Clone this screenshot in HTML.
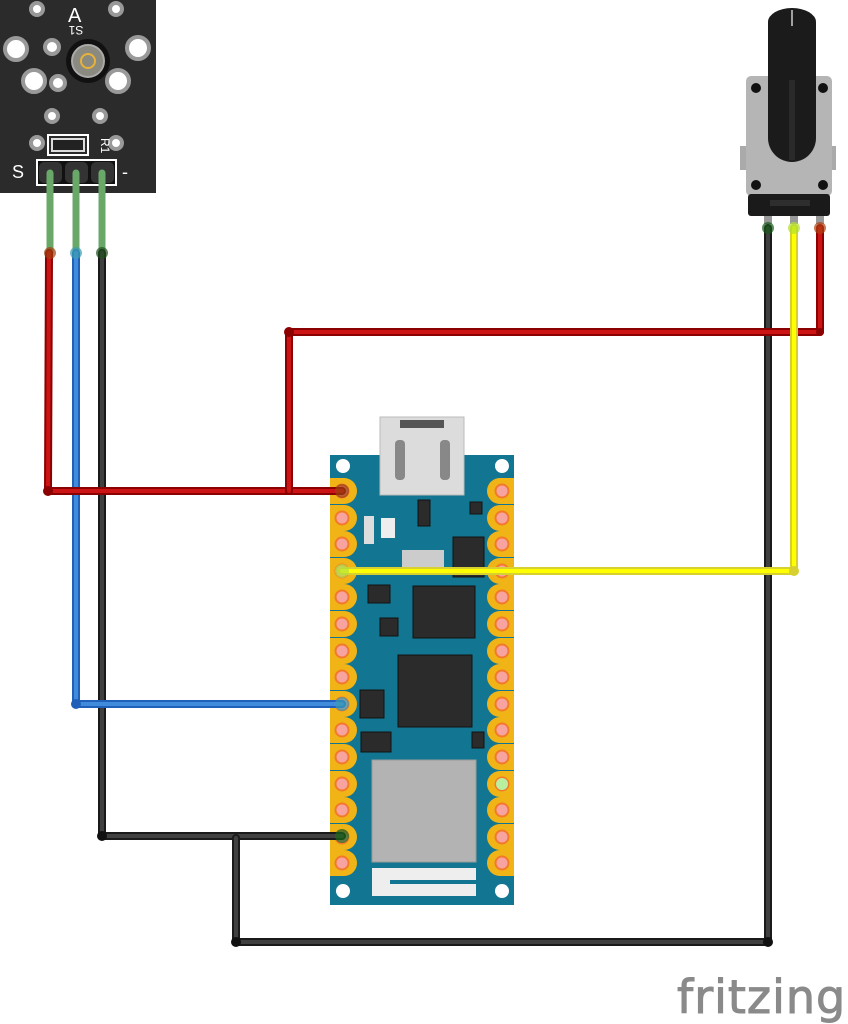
<!DOCTYPE html>
<html><head><meta charset="utf-8"><style>
html,body{margin:0;padding:0;background:#fff;width:848px;height:1024px;overflow:hidden}
svg{display:block}
</style></head><body>
<svg width="848" height="1024" viewBox="0 0 848 1024" xmlns="http://www.w3.org/2000/svg">
<defs>
<g id="pinL"><path d="M330,-13 h14 a13,13 0 0 1 0,26 h-14 z" fill="#f1b417"/><circle cx="342" cy="0" r="6.5" fill="#f7a3a0" stroke="#f2792a" stroke-width="2"/></g>
<g id="pinR"><path d="M514,-13 h-14 a13,13 0 0 0 0,26 h14 z" fill="#f1b417"/><circle cx="502" cy="0" r="6.5" fill="#f7a3a0" stroke="#f2792a" stroke-width="2"/></g>
</defs>

<!-- Sensor module -->
<rect x="0" y="0" width="156" height="193" fill="#2b2b2b"/>
<g fill="#fff" stroke="#999" stroke-width="4">
<circle cx="37" cy="9" r="6"/><circle cx="116" cy="9" r="6"/>
<circle cx="52" cy="47" r="7"/><circle cx="16" cy="49" r="11"/><circle cx="138" cy="48" r="11"/>
<circle cx="34" cy="81" r="11"/><circle cx="58" cy="83" r="7"/><circle cx="118" cy="81" r="11"/>
<circle cx="52" cy="116" r="6"/><circle cx="100" cy="116" r="6"/>
<circle cx="37" cy="143" r="6"/><circle cx="116" cy="143" r="6"/>
</g>
<circle cx="88" cy="61" r="22" fill="#111"/>
<circle cx="88" cy="61" r="16" fill="#8a8a80" stroke="#aaa" stroke-width="2"/>
<circle cx="88" cy="61" r="7" fill="none" stroke="#e8b23a" stroke-width="2"/>
<text x="68" y="22" font-family="Liberation Sans, sans-serif" font-size="20" fill="#fff">A</text>
<text x="76" y="34" text-anchor="middle" font-family="Liberation Sans, sans-serif" font-size="12" fill="#fff" transform="rotate(180 76 30)">S1</text>
<rect x="48" y="135" width="40" height="20" fill="none" stroke="#fff" stroke-width="2"/>
<rect x="52" y="139" width="32" height="12" fill="#222" stroke="#ddd" stroke-width="2"/>
<text x="92" y="141" font-family="Liberation Sans, sans-serif" font-size="12" fill="#fff" transform="rotate(90 98 144)">R1</text>
<text x="12" y="178" font-family="Liberation Sans, sans-serif" font-size="18" fill="#fff">S</text>
<text x="122" y="178" font-family="Liberation Sans, sans-serif" font-size="18" fill="#fff">-</text>
<rect x="37" y="160" width="79" height="25" fill="#111" stroke="#fff" stroke-width="2"/>
<g fill="#333"><rect x="39" y="162" width="23" height="21" rx="5"/><rect x="65" y="162" width="23" height="21" rx="5"/><rect x="91" y="162" width="23" height="21" rx="5"/></g>
<g stroke="#6aa86a" stroke-width="7" fill="none" stroke-linecap="round">
<line x1="50" y1="173" x2="50" y2="252"/><line x1="76" y1="173" x2="76" y2="252"/><line x1="102" y1="173" x2="102" y2="252"/>
</g>

<!-- Potentiometer -->
<rect x="740" y="146" width="8" height="24" fill="#aaa"/><rect x="828" y="146" width="8" height="24" fill="#aaa"/>
<rect x="746" y="76" width="86" height="120" rx="5" fill="#b5b5b5"/>
<circle cx="756" cy="88" r="5" fill="#111"/><circle cx="823" cy="88" r="5" fill="#111"/>
<circle cx="756" cy="185" r="5" fill="#111"/><circle cx="823" cy="185" r="5" fill="#111"/>
<rect x="748" y="194" width="82" height="22" rx="3" fill="#1a1a1a"/>
<rect x="770" y="200" width="40" height="6" fill="#2e2e2e"/>
<path d="M768,22 a24,14 0 0 1 48,0 V138 a24,24 0 0 1 -48,0 Z" fill="#1b1b1b"/>
<rect x="789" y="80" width="6" height="80" fill="#2a2a2a"/>
<line x1="792" y1="10" x2="792" y2="26" stroke="#ccc" stroke-width="1.5"/>
<g fill="#999"><rect x="764" y="216" width="8" height="8"/><rect x="790" y="216" width="8" height="8"/><rect x="816" y="216" width="8" height="8"/></g>

<!-- Arduino board -->
<rect x="330" y="455" width="184" height="450" fill="#127693"/>
<rect x="380" y="417" width="84" height="78" fill="#dcdcdc" stroke="#bbb"/>
<rect x="400" y="420" width="44" height="8" fill="#555"/>
<rect x="395" y="440" width="10" height="40" fill="#888" rx="4"/><rect x="440" y="440" width="10" height="40" fill="#888" rx="4"/>
<g fill="#fff"><circle cx="343" cy="466" r="7"/><circle cx="502" cy="466" r="7"/><circle cx="343" cy="891" r="7"/><circle cx="502" cy="891" r="7"/></g>
<g fill="#2b2b2b" stroke="#111">
<rect x="413" y="586" width="62" height="52"/>
<rect x="398" y="655" width="74" height="72"/>
<rect x="360" y="690" width="24" height="28"/>
<rect x="361" y="732" width="30" height="20"/>
<rect x="380" y="618" width="18" height="18"/>
<rect x="453" y="537" width="31" height="40"/>
<rect x="418" y="500" width="12" height="26"/>
<rect x="368" y="585" width="22" height="18"/>
<rect x="472" y="732" width="12" height="16"/>
<rect x="470" y="502" width="12" height="12"/>
</g>
<rect x="402" y="550" width="42" height="18" fill="#ccc"/>
<rect x="364" y="516" width="10" height="28" fill="#ddd"/>
<rect x="381" y="518" width="14" height="20" fill="#eee"/>
<rect x="372" y="760" width="104" height="102" fill="#b3b3b3" stroke="#999"/>
<path d="M372,868 h104 v12 h-86 v4 h86 v12 h-104 z" fill="#eee"/>
<g>
<use href="#pinL" y="491"/><use href="#pinL" y="518"/><use href="#pinL" y="544"/><use href="#pinL" y="571"/><use href="#pinL" y="597"/><use href="#pinL" y="624"/><use href="#pinL" y="651"/><use href="#pinL" y="677"/><use href="#pinL" y="704"/><use href="#pinL" y="730"/><use href="#pinL" y="757"/><use href="#pinL" y="784"/><use href="#pinL" y="810"/><use href="#pinL" y="837"/><use href="#pinL" y="863"/>
<use href="#pinR" y="491"/><use href="#pinR" y="518"/><use href="#pinR" y="544"/><use href="#pinR" y="571"/><use href="#pinR" y="597"/><use href="#pinR" y="624"/><use href="#pinR" y="651"/><use href="#pinR" y="677"/><use href="#pinR" y="704"/><use href="#pinR" y="730"/><use href="#pinR" y="757"/><use href="#pinR" y="784"/><use href="#pinR" y="810"/><use href="#pinR" y="837"/><use href="#pinR" y="863"/>
</g>
<circle cx="502" cy="784" r="6" fill="#b8f0a0"/>

<!-- Wires -->
<g fill="none" stroke-linejoin="round" stroke-linecap="round">
<polyline points="102,253 102,836 342,836" stroke="#1a1a1a" stroke-width="8"/>
<polyline points="102,253 102,836 342,836" stroke="#404040" stroke-width="4"/>
<polyline points="236,838 236,942 768,942 768,228" stroke="#1a1a1a" stroke-width="8"/>
<polyline points="236,838 236,942 768,942 768,228" stroke="#404040" stroke-width="4"/>
<polyline points="76,253 76,704 342,704" stroke="#2160b8" stroke-width="8"/>
<polyline points="76,253 76,704 342,704" stroke="#418bdc" stroke-width="4"/>
<polyline points="49,253 48,491 342,491" stroke="#8b0000" stroke-width="8"/>
<polyline points="49,253 48,491 342,491" stroke="#cc1414" stroke-width="4"/>
<polyline points="289,491 289,332 820,332 820,228" stroke="#8b0000" stroke-width="8"/>
<polyline points="289,491 289,332 820,332 820,228" stroke="#cc1414" stroke-width="4"/>
<polyline points="342,571 794,571 794,228" stroke="#d6d030" stroke-width="8"/>
<polyline points="342,571 794,571 794,228" stroke="#ffff00" stroke-width="4"/>
</g>
<g fill="#8b0000"><circle cx="48" cy="491" r="5"/><circle cx="289" cy="332" r="5"/><circle cx="820" cy="332" r="4"/></g>
<g fill="#111"><circle cx="102" cy="836" r="5"/><circle cx="236" cy="942" r="5"/><circle cx="768" cy="942" r="5"/></g>
<circle cx="76" cy="704" r="5" fill="#2160b8"/>
<circle cx="794" cy="571" r="5" fill="#d6d030"/>
<g fill-opacity="0.7">
<circle cx="50" cy="253" r="6" fill="#a04010"/><circle cx="76" cy="253" r="6" fill="#3a9bb0"/><circle cx="102" cy="253" r="6" fill="#205020"/>
<circle cx="768" cy="228" r="6" fill="#1a5a1a"/><circle cx="794" cy="228" r="6" fill="#b0e030"/><circle cx="820" cy="228" r="6" fill="#b04010"/>
<circle cx="342" cy="491" r="7" fill="#9a4010"/><circle cx="342" cy="571" r="7" fill="#b0e040"/><circle cx="342" cy="704" r="7" fill="#3a9bb0"/><circle cx="342" cy="836" r="7" fill="#1a6a1a"/>
</g>

<text x="677" y="1013" font-family="DejaVu Sans, Liberation Sans, sans-serif" font-size="46" fill="#8a8a8a" stroke="#8a8a8a" stroke-width="1" letter-spacing="1">fritzing</text>
</svg>
</body></html>
